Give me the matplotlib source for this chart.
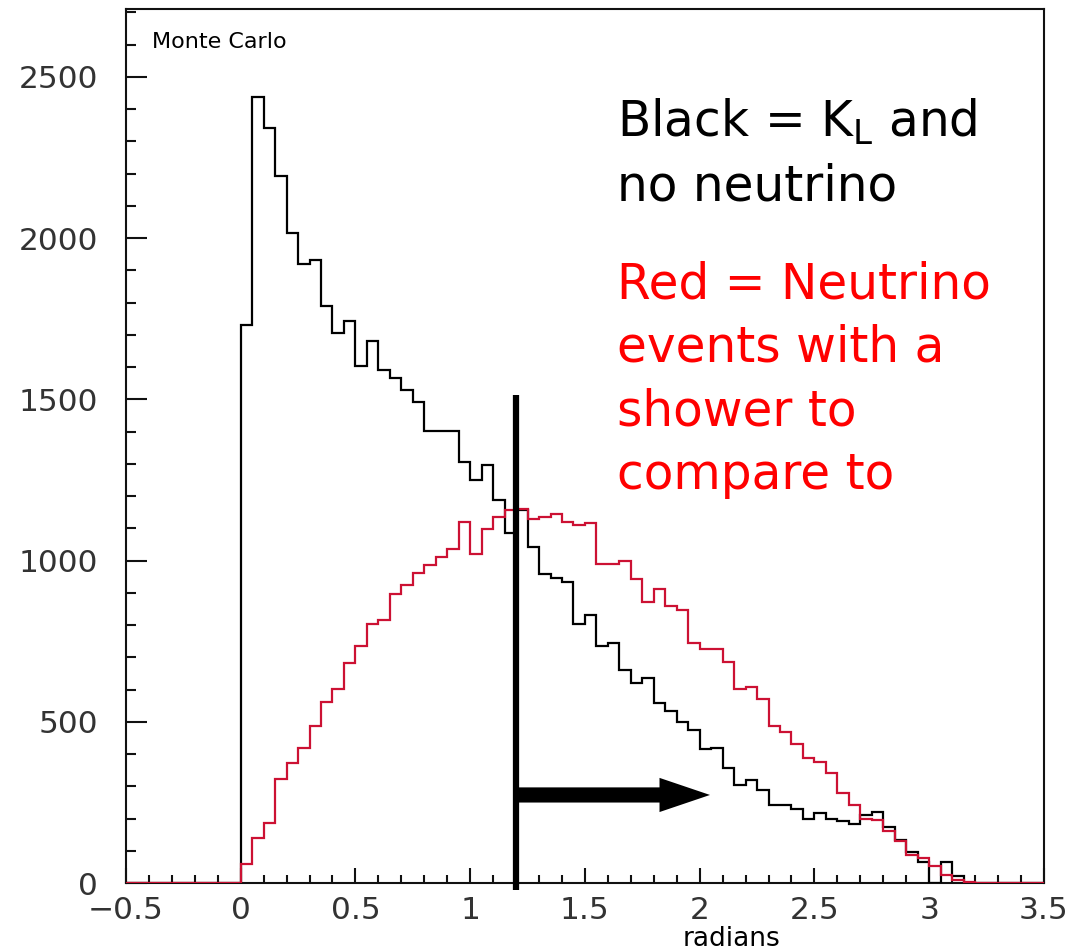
import numpy as np
import matplotlib
matplotlib.use('Agg')
import matplotlib.pyplot as plt
from matplotlib.ticker import MultipleLocator

# histogram binning (ROOT style: 80 bins from -0.5 to 3.5)
bin_lo, bin_hi, n_bins = -0.5, 3.5, 80

# counts per bin, starting at bin [-0.5, -0.45)
black_counts = [0] * 10 + [
    1730, 2438, 2340, 2193, 2017, 1920, 1932, 1790, 1704, 1744,
    1603, 1682, 1591, 1565, 1529, 1492, 1401, 1401, 1401, 1305,
    1250, 1296, 1188, 1084, 1157, 1041, 957, 945, 932, 803,
    831, 736, 743, 660, 621, 637, 559, 534, 500, 474,
    414, 420, 357, 304, 319, 288, 242, 242, 228, 198,
    216, 200, 193, 182, 211, 219, 173, 133, 95, 65,
    0, 66, 23, 0, 0, 0, 0, 0, 0, 0,
]
red_counts = [0] * 10 + [
    59, 141, 187, 321, 372, 420, 487, 560, 602, 681,
    736, 803, 815, 897, 924, 961, 986, 1012, 1036, 1120,
    1020, 1097, 1136, 1157, 1159, 1128, 1136, 1144, 1120, 1110,
    1115, 988, 988, 998, 943, 872, 913, 858, 846, 743,
    725, 725, 686, 603, 609, 571, 487, 467, 431, 387,
    376, 340, 278, 242, 198, 194, 160, 130, 87, 76,
    53, 25, 9, 2, 0, 0, 0, 0, 0, 0,
]

x_ticks = [-0.5, 0, 0.5, 1, 1.5, 2, 2.5, 3, 3.5]
x_ticklabels = ['\u22120.5', '0', '0.5', '1', '1.5', '2', '2.5', '3', '3.5']
y_ticks = [0, 500, 1000, 1500, 2000, 2500]

cut = 1.2          # cut position (radians)
cut_top = 1513     # top of the cut line
arrow_end = 2.045  # arrow tip
arrow_y = 273

edges = np.linspace(bin_lo, bin_hi, n_bins + 1)

fig = plt.figure(figsize=(10.71, 9.51), dpi=100, facecolor='white')
ax = fig.add_axes([0.1176, 0.0715, 0.8571, 0.919])

ax.stairs(black_counts, edges, color='black', linewidth=1.6, zorder=3)
ax.stairs(red_counts, edges, color='#cc1133', linewidth=1.6, zorder=4)

ax.set_xlim(bin_lo, bin_hi)
ax.set_ylim(0, 2710)

# frame
for side in ['left', 'bottom', 'top', 'right']:
    ax.spines[side].set_linewidth(1.5)
    ax.spines[side].set_color('#111111')

ax.set_xticks(x_ticks)
ax.set_xticklabels(x_ticklabels)
ax.set_yticks(y_ticks)
ax.xaxis.set_minor_locator(MultipleLocator(0.1))
ax.yaxis.set_minor_locator(MultipleLocator(100))
ax.tick_params(axis='both', which='both', direction='in', top=False, right=False,
               color='#111111', width=1.5)
ax.tick_params(axis='x', which='major', length=11, pad=9)
ax.tick_params(axis='x', which='minor', length=6)
ax.tick_params(axis='y', which='major', length=15, pad=20)
ax.tick_params(axis='y', which='minor', length=7.5)
for lab in ax.get_xticklabels() + ax.get_yticklabels():
    lab.set_fontsize(22.5)
    lab.set_color('#333333')
    lab.set_family('DejaVu Sans')

# cut line and arrow
ax.plot([cut, cut], [cut_top, -22], color='black', linewidth=4.5,
        solid_capstyle='butt', clip_on=False, zorder=6)
ax.arrow(cut, arrow_y, arrow_end - cut, 0, width=47, head_width=106,
         head_length=0.22, length_includes_head=True, color='black',
         linewidth=0, zorder=6)

# annotations
ax.text(0.028, 0.955, 'Monte Carlo', transform=ax.transAxes, fontsize=16,
        family='DejaVu Sans', va='baseline', ha='left', color='black')
ax.text(2.14, -0.072, 'radians', transform=ax.get_xaxis_transform(), fontsize=19,
        family='DejaVu Sans', ha='center', va='baseline', color='black')

txt_x = 0.535
ax.text(txt_x, 0.854, 'Black = K$_\\mathregular{L}$ and', transform=ax.transAxes,
        fontsize=35, family='DejaVu Sans', color='black', va='baseline')
ax.text(txt_x, 0.7806, 'no neutrino', transform=ax.transAxes,
        fontsize=35, family='DejaVu Sans', color='black', va='baseline')
red_lines = ['Red = Neutrino', 'events with a', 'shower to', 'compare to']
for i, line in enumerate(red_lines):
    ax.text(txt_x, 0.6693 - i * 63.5 / 874, line, transform=ax.transAxes,
            fontsize=35, family='DejaVu Sans', color='#ff0000', va='baseline')

fig.savefig('out.png', dpi=100, facecolor='white')
